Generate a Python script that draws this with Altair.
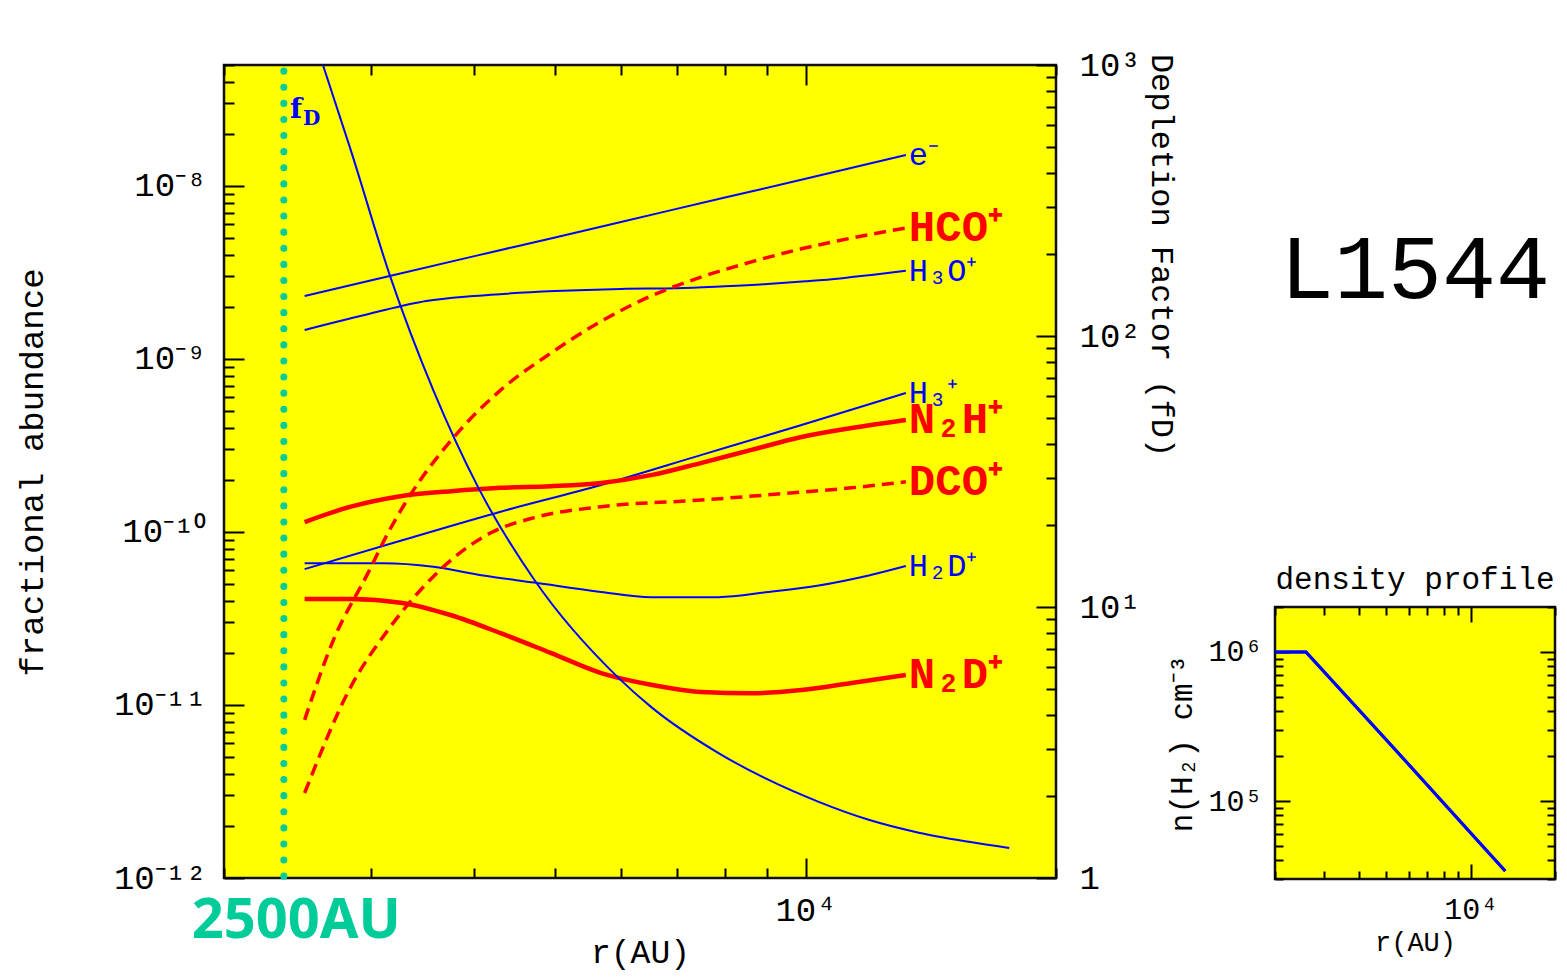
import altair as alt
import pandas as pd

# ---------------- text ----------------
NAME = "L1544"
X_TITLE = "r(AU)"
Y_LEFT_TITLE = "fractional abundance"
Y_RIGHT_TITLE = "Depletion Factor (fD)"
INSET_TITLE = "density profile"
INSET_Y_TITLE = "n(H₂) cm⁻³"
CUT_LABEL = "2500AU"
CUT_R = 2360

# ---------------- axes ----------------
R_DOMAIN = [2000, 20000]
ABUND_DOMAIN = [1e-12, 5e-8]
FD_DOMAIN = [1, 1000]
DENS_DOMAIN = [3e4, 2e6]

R_TICKS = [2000, 3000, 4000, 5000, 6000, 7000, 8000, 9000, 10000, 20000]
ABUND_TICKS = [m * 10.0 ** k for k in range(-12, -7) for m in range(1, 10) if m * 10.0 ** k <= 5.0001e-8]
FD_TICKS = [m * 10 ** k for k in range(0, 3) for m in range(1, 10)] + [1000]
DENS_TICKS = [m * 10 ** k for k in (4, 5) for m in range(1, 10) if m * 10 ** k >= 3e4] + [1e6, 2e6]

ABUND_LABELS = {-8: "10⁻⁸", -9: "10⁻⁹", -10: "10⁻¹⁰", -11: "10⁻¹¹", -12: "10⁻¹²"}
FD_LABELS = {0: "1", 1: "10¹", 2: "10²", 3: "10³"}
R_LABELS = {4: "10⁴"}
DENS_LABELS = {5: "10⁵", 6: "10⁶"}

# ---------------- series ----------------
E_R = [2500, 3000, 4000, 5000, 6000, 8000, 10000, 13200]
E_V = [2.31e-9, 2.84e-9, 3.93e-9, 5.04e-9, 6.19e-9, 8.57e-9, 1.10e-8, 1.51e-8]

H3O_R = [2500, 3000, 3500, 4000, 5000, 6000, 7000, 8000, 9000, 10000, 11000, 12000, 13200]
H3O_V = [1.47e-9, 1.83e-9, 2.16e-9, 2.31e-9, 2.47e-9, 2.54e-9, 2.56e-9, 2.63e-9, 2.71e-9, 2.81e-9, 2.92e-9, 3.06e-9, 3.23e-9]

H3P_R = [2500, 3260, 4300, 5680, 7500, 9890, 13200]
H3P_V = [6.1e-11, 8.9e-11, 1.31e-10, 1.87e-10, 2.79e-10, 4.15e-10, 6.35e-10]

H2D_R = [2500, 3110, 3570, 4100, 4720, 5680, 6520, 7860, 9030, 10370, 11910, 13200]
H2D_V = [6.6e-11, 6.6e-11, 6.3e-11, 5.6e-11, 5.1e-11, 4.5e-11, 4.2e-11, 4.2e-11, 4.5e-11, 4.9e-11, 5.6e-11, 6.35e-11]

HCO_R = [2500, 2700, 2980, 3150, 3320, 3780, 4300, 4940, 5680, 6520, 7500, 8610, 9890, 11360, 13200]
HCO_V = [8.2e-12, 2.3e-11, 5.8e-11, 9.9e-11, 1.53e-10, 3.54e-10, 6.6e-10, 1.08e-9, 1.65e-9, 2.31e-9, 2.98e-9, 3.64e-9, 4.33e-9, 5.0e-9, 5.71e-9]

DCO_R = [2500, 2840, 3150, 3420, 3750, 4180, 4720, 5680, 7500, 9890, 11360, 13200]
DCO_V = [3.1e-12, 1.27e-11, 2.72e-11, 4.44e-11, 6.89e-11, 9.86e-11, 1.21e-10, 1.40e-10, 1.53e-10, 1.70e-10, 1.80e-10, 1.95e-10]

N2H_R = [2500, 2840, 3260, 3750, 4300, 4940, 5680, 6520, 7500, 8610, 9890, 11360, 13200]
N2H_V = [1.14e-10, 1.40e-10, 1.61e-10, 1.72e-10, 1.80e-10, 1.84e-10, 1.92e-10, 2.13e-10, 2.51e-10, 2.98e-10, 3.54e-10, 3.99e-10, 4.44e-10]

N2D_R = [2500, 2840, 3260, 3750, 4300, 4940, 5680, 6520, 7500, 8610, 9890, 11360, 13200]
N2D_V = [4.1e-11, 4.1e-11, 3.9e-11, 3.3e-11, 2.6e-11, 2.0e-11, 1.53e-11, 1.31e-11, 1.19e-11, 1.17e-11, 1.22e-11, 1.34e-11, 1.49e-11]

FD_R = [2630, 2840, 3170, 3570, 4040, 4720, 5950, 6520, 7860, 9030, 10370, 11910, 13680, 15720, 17570]
FD_V = [1000, 486, 165, 63, 27.7, 12.6, 5.5, 4.28, 2.89, 2.30, 1.91, 1.64, 1.47, 1.36, 1.29]
FD_LABEL_AT = [2400, 680]

DENS_R = [2000, 2580, 5000, 10000, 13280]
DENS_V = [1e6, 1e6, 2.57e5, 6.1e4, 3.39e4]

BLUE_THIN = {"e⁻": (E_R, E_V), "H₃O⁺": (H3O_R, H3O_V), "H₃⁺": (H3P_R, H3P_V), "H₂D⁺": (H2D_R, H2D_V)}
RED_SOLID = {"N₂H⁺": (N2H_R, N2H_V), "N₂D⁺": (N2D_R, N2D_V)}
RED_DASHED = {"HCO⁺": (HCO_R, HCO_V), "DCO⁺": (DCO_R, DCO_V)}

# ---------------- styles ----------------
MONO = "Liberation Mono"
SERIF = "DejaVu Serif"
BLUE = "#0000FF"
RED = "#FF0000"
CYAN = "#00CC99"
YELLOW = "#FFFF00"


def long_df(group):
    rows = []
    for name, (rs, vs) in group.items():
        for r, v in zip(rs, vs):
            rows.append({"species": name, "r": r, "v": v})
    return pd.DataFrame(rows)


def end_df(group):
    return pd.DataFrame([{"species": n, "r": rs[-1], "v": vs[-1]} for n, (rs, vs) in group.items()])


MAJOR = "abs(log(datum.value) / LN10 - round(log(datum.value) / LN10)) < 0.001"


def lab_expr(labels):
    e = "round(log(datum.value) / LN10)"
    chain = "".join(f"{e} == {k} ? '{t}' : " for k, t in labels.items()) + "''"
    return f"({MAJOR}) ? ({chain}) : ''"


def tsize(major, minor, extra=""):
    cond = f"({MAJOR})" + extra
    return {"expr": f"({cond}) ? {-major} : {-minor}"}


COMMON = dict(domain=False, grid=False, tickColor="black", tickWidth=2,
              labelOverlap=False, labelFlush=False, labelLimit=0,
              titleFont=MONO, titleFontWeight="normal", titleColor="black")

cut = f"datum.value == {CUT_R}"

axis_left = alt.Axis(orient="left", values=ABUND_TICKS, labelExpr=lab_expr(ABUND_LABELS),
                     tickSize=tsize(20, 10), labelPadding=38, labelFont=MONO, labelFontSize=34,
                     labelColor="black",
                     title=Y_LEFT_TITLE, titleFontSize=34, titleAngle=270, titleX=-192, titleY=407,
                     titleAlign="center", titleBaseline="middle", **COMMON)
axis_bottom = alt.Axis(orient="bottom", values=[CUT_R] + R_TICKS,
                       labelExpr=f"{cut} ? '{CUT_LABEL}' : {lab_expr(R_LABELS)}",
                       tickSize=tsize(20, 10, f" || {cut}"),
                       tickOpacity={"expr": f"{cut} ? 0 : 1"},
                       labelPadding=35,
                       labelFont={"expr": f"{cut} ? 'Noto Sans' : '{MONO}'"},
                       labelFontSize={"expr": f"{cut} ? 56 : 34"},
                       labelFontWeight={"expr": f"{cut} ? 'bold' : 'normal'"},
                       labelOffset={"expr": f"{cut} ? 12 : 0"},
                       labelColor={"expr": f"{cut} ? '{CYAN}' : 'black'"},
                       title=X_TITLE, titleFontSize=33, titleX=416, titleY=74,
                       titleAlign="center", titleBaseline="middle", **COMMON)
axis_top = alt.Axis(orient="top", values=R_TICKS, labels=False, tickSize=tsize(20, 10), title="", **COMMON)
axis_right = alt.Axis(orient="right", values=FD_TICKS, labelExpr=lab_expr(FD_LABELS),
                      tickSize=tsize(20, 10), labelPadding=43, labelFont=MONO, labelFontSize=34,
                      labelColor="black",
                      title=Y_RIGHT_TITLE, titleFontSize=32, titleAngle=90, titleX=105, titleY=190,
                      titleAlign="center", titleBaseline="middle", **COMMON)

x_scale = alt.Scale(type="log", domain=R_DOMAIN, nice=False)
ab_scale = alt.Scale(type="log", domain=ABUND_DOMAIN, nice=False)
fd_scale = alt.Scale(type="log", domain=FD_DOMAIN, nice=False)
dens_scale = alt.Scale(type="log", domain=DENS_DOMAIN, nice=False)

xb = alt.X("r:Q", scale=x_scale, axis=axis_bottom)
yl = alt.Y("v:Q", scale=ab_scale, axis=axis_left)
xt = alt.X("r:Q", scale=x_scale, axis=axis_top)
yr = alt.Y("v:Q", scale=fd_scale, axis=axis_right)

# ---------------- main panel ----------------
cut_rule = alt.Chart(pd.DataFrame({"r": [CUT_R]})).mark_rule(
    color=CYAN, strokeWidth=7, strokeDash=[0.1, 16], strokeDashOffset=10, strokeCap="round"
).encode(x=xb)

blue_lines = alt.Chart(long_df(BLUE_THIN)).mark_line(color=BLUE, strokeWidth=2, interpolate="monotone", clip=True).encode(
    x=xb, y=yl, detail="species:N")
red_lines = alt.Chart(long_df(RED_SOLID)).mark_line(color=RED, strokeWidth=4.5, interpolate="monotone", clip=True).encode(
    x=xb, y=yl, detail="species:N")
red_dashed = alt.Chart(long_df(RED_DASHED)).mark_line(color=RED, strokeWidth=3.5, strokeDash=[12, 7], interpolate="monotone", clip=True).encode(
    x=xb, y=yl, detail="species:N")

blue_labels = alt.Chart(end_df(BLUE_THIN)).mark_text(
    color=BLUE, font=MONO, fontSize=32, align="left", baseline="middle", dx=3).encode(x=xb, y=yl, text="species:N")
red_labels = alt.Chart(pd.concat([end_df(RED_SOLID), end_df(RED_DASHED)])).mark_text(
    color=RED, font=MONO, fontSize=44, fontWeight="bold", align="left", baseline="middle", dx=3).encode(x=xb, y=yl, text="species:N")

group_a = alt.layer(cut_rule, blue_lines, red_lines, red_dashed, blue_labels, red_labels)

fd_df = pd.DataFrame({"r": FD_R, "v": FD_V})
fd_line = alt.Chart(fd_df).mark_line(color=BLUE, strokeWidth=2, interpolate="monotone", clip=True).encode(x=xt, y=yr)
fd_lab = pd.DataFrame({"r": [FD_LABEL_AT[0]], "v": [FD_LABEL_AT[1]], "t1": ["f"], "t2": ["D"]})
fd_f = alt.Chart(fd_lab).mark_text(color=BLUE, font=SERIF, fontWeight="bold", fontSize=28, align="left", baseline="middle").encode(
    x=xt, y=yr, text="t1:N")
fd_d = alt.Chart(fd_lab).mark_text(color=BLUE, font=SERIF, fontWeight="bold", fontSize=20, align="left", baseline="middle", dx=13, dy=9).encode(
    x=xt, y=yr, text="t2:N")
group_b = alt.layer(fd_line, fd_f, fd_d)

main = alt.layer(group_a, group_b).resolve_scale(y="independent").resolve_axis(
    x="independent", y="independent").properties(width=832, height=813)

# ---------------- inset ----------------
inset_bottom = alt.Axis(orient="bottom", values=R_TICKS, labelExpr=lab_expr(R_LABELS), tickSize=tsize(15, 8),
                        labelPadding=30, labelFont=MONO, labelFontSize=30, labelColor="black",
                        title=X_TITLE, titleFontSize=27,
                        titleX=140, titleY=63, titleAlign="center", titleBaseline="middle", **COMMON)
inset_left = alt.Axis(orient="left", values=DENS_TICKS, labelExpr=lab_expr(DENS_LABELS), tickSize=tsize(15, 8),
                      labelPadding=28, labelFont=MONO, labelFontSize=30, labelColor="black",
                      title=INSET_Y_TITLE, titleFontSize=31,
                      titleAngle=270, titleX=-93, titleY=136, titleAlign="center", titleBaseline="middle", **COMMON)
inset_top = alt.Axis(orient="top", values=R_TICKS, labels=False, tickSize=tsize(15, 8), title="", **COMMON)
inset_right = alt.Axis(orient="right", values=DENS_TICKS, labels=False, tickSize=tsize(15, 8), title="", **COMMON)

dens_df = pd.DataFrame({"r": DENS_R, "n": DENS_V})
dens_base = alt.Chart(dens_df).mark_line(color=BLUE, strokeWidth=3)
inset = alt.layer(
    dens_base.encode(x=alt.X("r:Q", scale=x_scale, axis=inset_bottom), y=alt.Y("n:Q", scale=dens_scale, axis=inset_left)),
    dens_base.encode(x=alt.X("r:Q", scale=x_scale, axis=inset_top), y=alt.Y("n:Q", scale=dens_scale, axis=inset_right)),
).resolve_axis(x="independent", y="independent").properties(
    width=280, height=272,
    title=alt.TitleParams(INSET_TITLE, font=MONO, fontSize=31, fontWeight="normal", color="black",
                          frame="group", anchor="middle", offset=-4))

name_chart = alt.Chart(pd.DataFrame({"name": [NAME]})).mark_text(
    font=MONO, fontSize=90, color="black").encode(text="name:N").properties(
    width=280, height=412, view=alt.ViewBackground(stroke="transparent", fill="transparent"))

right_col = alt.vconcat(name_chart, inset, spacing=130, bounds="flush")

chart = alt.hconcat(main, right_col, spacing=219, bounds="flush").properties(
    padding={"left": 5, "top": 38, "right": 0, "bottom": 0}, background="white"
).configure_view(fill=YELLOW, stroke="#111111", strokeWidth=2.5)

chart.save("out.html", embed_options={"renderer": "svg", "actions": False})
